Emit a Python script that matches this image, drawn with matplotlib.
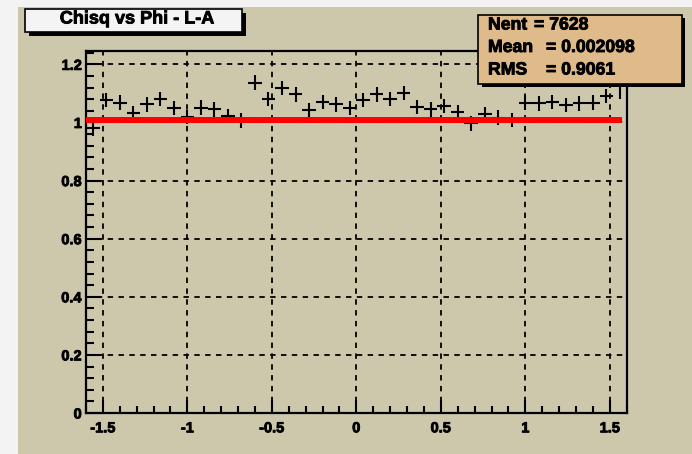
import matplotlib
matplotlib.use("Agg")
import matplotlib.pyplot as plt
import matplotlib.patheffects as pe
from matplotlib.patches import Rectangle
from matplotlib.ticker import MultipleLocator

# histogram of chi-square per bin vs phi, 40 bins on [-1.6, 1.6]
bin_centers = [-1.56, -1.48, -1.40, -1.32, -1.24, -1.16, -1.08, -1.00, -0.92, -0.84,
               -0.76, -0.68, -0.60, -0.52, -0.44, -0.36, -0.28, -0.20, -0.12, -0.04,
               0.04, 0.12, 0.20, 0.28, 0.36, 0.44, 0.52, 0.60, 0.68, 0.76,
               0.84, 0.92, 1.00, 1.08, 1.16, 1.24, 1.32, 1.40, 1.48, 1.56]
chisq = [0.980, 1.077, 1.068, 1.031, 1.062, 1.080, 1.049, 1.019, 1.051, 1.045,
         1.022, 1.006, 1.137, 1.080, 1.119, 1.097, 1.043, 1.071, 1.062, 1.049,
         1.077, 1.097, 1.080, 1.102, 1.054, 1.045, 1.056, 1.035, 0.997, 1.028,
         1.017, 1.008, 1.068, 1.066, 1.071, 1.060, 1.066, 1.068, 1.091, 1.132]
chisq_err = [0.026, 0.025, 0.025, 0.025, 0.025, 0.025, 0.025, 0.025, 0.025, 0.025,
             0.025, 0.025, 0.025, 0.025, 0.025, 0.025, 0.025, 0.025, 0.025, 0.025,
             0.025, 0.025, 0.025, 0.025, 0.025, 0.025, 0.025, 0.025, 0.025, 0.025,
             0.025, 0.025, 0.025, 0.025, 0.025, 0.025, 0.025, 0.025, 0.025, 0.05]
bin_half_width = 0.04

# constant fit
fit_value = 1.01
fit_range = [-1.6, 1.575]

# stats box
n_entries = 7628
mean = 0.002098
rms = 0.9061

title = "Chisq vs Phi - L-A"

plt.rcParams["font.family"] = ["Liberation Sans", "DejaVu Sans"]
plt.rcParams["font.weight"] = "bold"
plt.rcParams["axes.unicode_minus"] = False

# thicker glyphs, closer to the heavy Helvetica of the ROOT canvas
heavy = [pe.withStroke(linewidth=0.6, foreground="black")]

W, H = 692, 454
fig = plt.figure(figsize=(W / 100, H / 100), dpi=100, facecolor="#f3f3f3")

def px_rect(x0, y0, x1, y1, **kw):
    # rectangle given in pixel coords from the top-left corner
    return Rectangle((x0 / W, 1 - y1 / H), (x1 - x0) / W, (y1 - y0) / H,
                     transform=fig.transFigure, **kw)

# canvas
fig.patches.append(px_rect(18, 7, W, H, facecolor="#cdc8ac", edgecolor="none", zorder=0))

ax = fig.add_axes([86 / W, 1 - 413 / H, (626.7 - 86) / W, (413 - 51) / H])
ax.set_zorder(2)
ax.set_facecolor("#cdc8ac")

ax.errorbar(bin_centers, chisq, xerr=bin_half_width, yerr=chisq_err, fmt="none",
            ecolor="black", elinewidth=1.5, capsize=0, zorder=3)
ax.plot(fit_range, [fit_value, fit_value], color="#ff0000", lw=4.3,
        solid_capstyle="butt", zorder=4)

ax.set_xlim(-1.6, 1.6)
ax.set_ylim(0, 1.246)
ax.xaxis.set_minor_locator(MultipleLocator(0.1))
ax.yaxis.set_minor_locator(MultipleLocator(0.04))
ax.set_xticks([-1.5, -1, -0.5, 0, 0.5, 1, 1.5])
ax.set_xticklabels(["-1.5", "-1", "-0.5", "0", "0.5", "1", "1.5"])
ax.set_yticks([0, 0.2, 0.4, 0.6, 0.8, 1.0, 1.2])
ax.set_yticklabels(["0", "0.2", "0.4", "0.6", "0.8", "1", "1.2"])

ax.grid(True, which="major", color="black", ls=(0, (3, 3)), lw=1.3, zorder=1)
ax.set_axisbelow(True)

ax.tick_params(axis="x", which="major", direction="in", length=9.4, width=1.5,
               labelsize=10.5, pad=6)
ax.tick_params(axis="x", which="minor", direction="in", length=5, width=1.5)
ax.tick_params(axis="y", which="major", direction="in", length=10.8, width=1.5,
               labelsize=10.5, pad=3)
ax.tick_params(axis="y", which="minor", direction="in", length=5.8, width=1.5)
for lab in ax.get_xticklabels() + ax.get_yticklabels():
    lab.set_fontweight("bold")
    lab.set_path_effects(heavy)
for sp in ax.spines.values():
    sp.set_linewidth(1.6)

# title box with drop shadow
fig.patches.append(px_rect(29, 13, 246, 36, facecolor="black", edgecolor="none", zorder=5))
fig.patches.append(px_rect(25, 9.5, 241.5, 31.5, facecolor="#f4f4f4", edgecolor="black",
                           lw=1.2, zorder=6))
fig.text(137 / W, 1 - 19 / H, title, ha="center", va="center", fontsize=13,
         fontweight="bold", zorder=7, path_effects=heavy)

# stats box with drop shadow
fig.patches.append(px_rect(482, 18, 685, 87, facecolor="black", edgecolor="none", zorder=5))
fig.patches.append(px_rect(478, 14.5, 681.5, 83.5, facecolor="#dfba8a", edgecolor="black",
                           lw=1.2, zorder=6))
stats = [("Nent", 534, f"= {n_entries}", 25),
         ("Mean", 546, f"= {mean:.6f}", 47.5),
         ("RMS", 546, f"= {rms:.4f}", 70)]
for name, xeq, val, yc in stats:
    fig.text(488 / W, 1 - yc / H, name, ha="left", va="center", fontsize=12.7,
             fontweight="bold", zorder=7, path_effects=heavy)
    fig.text(xeq / W, 1 - yc / H, val, ha="left", va="center", fontsize=12.7,
             fontweight="bold", zorder=7, path_effects=heavy)

fig.savefig("out.png", dpi=100, facecolor=fig.get_facecolor())
